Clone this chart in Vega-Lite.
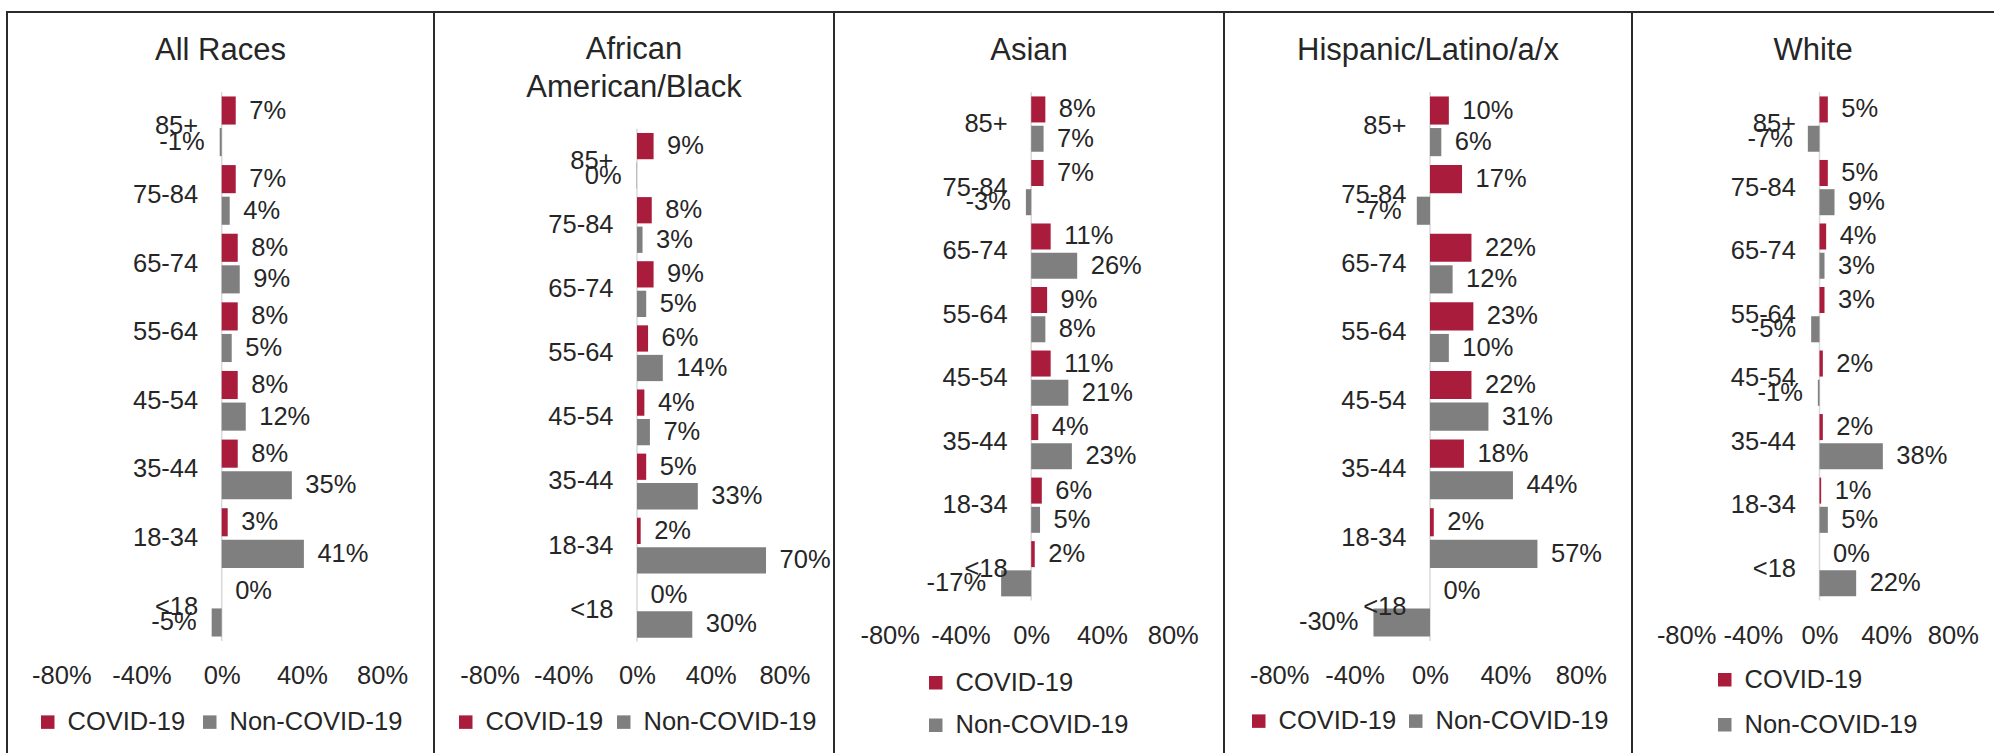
{
  "$schema": "https://vega.github.io/schema/vega-lite/v6.json",
  "datasets": {
    "d": [
      {"race": "All Races", "age": "85+", "series": "COVID-19", "value": 0.07},
      {"race": "All Races", "age": "85+", "series": "Non-COVID-19", "value": -0.01},
      {"race": "All Races", "age": "75-84", "series": "COVID-19", "value": 0.07},
      {"race": "All Races", "age": "75-84", "series": "Non-COVID-19", "value": 0.04},
      {"race": "All Races", "age": "65-74", "series": "COVID-19", "value": 0.08},
      {"race": "All Races", "age": "65-74", "series": "Non-COVID-19", "value": 0.09},
      {"race": "All Races", "age": "55-64", "series": "COVID-19", "value": 0.08},
      {"race": "All Races", "age": "55-64", "series": "Non-COVID-19", "value": 0.05},
      {"race": "All Races", "age": "45-54", "series": "COVID-19", "value": 0.08},
      {"race": "All Races", "age": "45-54", "series": "Non-COVID-19", "value": 0.12},
      {"race": "All Races", "age": "35-44", "series": "COVID-19", "value": 0.08},
      {"race": "All Races", "age": "35-44", "series": "Non-COVID-19", "value": 0.35},
      {"race": "All Races", "age": "18-34", "series": "COVID-19", "value": 0.03},
      {"race": "All Races", "age": "18-34", "series": "Non-COVID-19", "value": 0.41},
      {"race": "All Races", "age": "<18", "series": "COVID-19", "value": 0.0},
      {"race": "All Races", "age": "<18", "series": "Non-COVID-19", "value": -0.05},

      {"race": "African American/Black", "age": "85+", "series": "COVID-19", "value": 0.09},
      {"race": "African American/Black", "age": "85+", "series": "Non-COVID-19", "value": -0.002},
      {"race": "African American/Black", "age": "75-84", "series": "COVID-19", "value": 0.08},
      {"race": "African American/Black", "age": "75-84", "series": "Non-COVID-19", "value": 0.03},
      {"race": "African American/Black", "age": "65-74", "series": "COVID-19", "value": 0.09},
      {"race": "African American/Black", "age": "65-74", "series": "Non-COVID-19", "value": 0.05},
      {"race": "African American/Black", "age": "55-64", "series": "COVID-19", "value": 0.06},
      {"race": "African American/Black", "age": "55-64", "series": "Non-COVID-19", "value": 0.14},
      {"race": "African American/Black", "age": "45-54", "series": "COVID-19", "value": 0.04},
      {"race": "African American/Black", "age": "45-54", "series": "Non-COVID-19", "value": 0.07},
      {"race": "African American/Black", "age": "35-44", "series": "COVID-19", "value": 0.05},
      {"race": "African American/Black", "age": "35-44", "series": "Non-COVID-19", "value": 0.33},
      {"race": "African American/Black", "age": "18-34", "series": "COVID-19", "value": 0.02},
      {"race": "African American/Black", "age": "18-34", "series": "Non-COVID-19", "value": 0.70},
      {"race": "African American/Black", "age": "<18", "series": "COVID-19", "value": 0.0},
      {"race": "African American/Black", "age": "<18", "series": "Non-COVID-19", "value": 0.30},

      {"race": "Asian", "age": "85+", "series": "COVID-19", "value": 0.08},
      {"race": "Asian", "age": "85+", "series": "Non-COVID-19", "value": 0.07},
      {"race": "Asian", "age": "75-84", "series": "COVID-19", "value": 0.07},
      {"race": "Asian", "age": "75-84", "series": "Non-COVID-19", "value": -0.03},
      {"race": "Asian", "age": "65-74", "series": "COVID-19", "value": 0.11},
      {"race": "Asian", "age": "65-74", "series": "Non-COVID-19", "value": 0.26},
      {"race": "Asian", "age": "55-64", "series": "COVID-19", "value": 0.09},
      {"race": "Asian", "age": "55-64", "series": "Non-COVID-19", "value": 0.08},
      {"race": "Asian", "age": "45-54", "series": "COVID-19", "value": 0.11},
      {"race": "Asian", "age": "45-54", "series": "Non-COVID-19", "value": 0.21},
      {"race": "Asian", "age": "35-44", "series": "COVID-19", "value": 0.04},
      {"race": "Asian", "age": "35-44", "series": "Non-COVID-19", "value": 0.23},
      {"race": "Asian", "age": "18-34", "series": "COVID-19", "value": 0.06},
      {"race": "Asian", "age": "18-34", "series": "Non-COVID-19", "value": 0.05},
      {"race": "Asian", "age": "<18", "series": "COVID-19", "value": 0.02},
      {"race": "Asian", "age": "<18", "series": "Non-COVID-19", "value": -0.17},

      {"race": "Hispanic/Latino/a/x", "age": "85+", "series": "COVID-19", "value": 0.10},
      {"race": "Hispanic/Latino/a/x", "age": "85+", "series": "Non-COVID-19", "value": 0.06},
      {"race": "Hispanic/Latino/a/x", "age": "75-84", "series": "COVID-19", "value": 0.17},
      {"race": "Hispanic/Latino/a/x", "age": "75-84", "series": "Non-COVID-19", "value": -0.07},
      {"race": "Hispanic/Latino/a/x", "age": "65-74", "series": "COVID-19", "value": 0.22},
      {"race": "Hispanic/Latino/a/x", "age": "65-74", "series": "Non-COVID-19", "value": 0.12},
      {"race": "Hispanic/Latino/a/x", "age": "55-64", "series": "COVID-19", "value": 0.23},
      {"race": "Hispanic/Latino/a/x", "age": "55-64", "series": "Non-COVID-19", "value": 0.10},
      {"race": "Hispanic/Latino/a/x", "age": "45-54", "series": "COVID-19", "value": 0.22},
      {"race": "Hispanic/Latino/a/x", "age": "45-54", "series": "Non-COVID-19", "value": 0.31},
      {"race": "Hispanic/Latino/a/x", "age": "35-44", "series": "COVID-19", "value": 0.18},
      {"race": "Hispanic/Latino/a/x", "age": "35-44", "series": "Non-COVID-19", "value": 0.44},
      {"race": "Hispanic/Latino/a/x", "age": "18-34", "series": "COVID-19", "value": 0.02},
      {"race": "Hispanic/Latino/a/x", "age": "18-34", "series": "Non-COVID-19", "value": 0.57},
      {"race": "Hispanic/Latino/a/x", "age": "<18", "series": "COVID-19", "value": 0.0},
      {"race": "Hispanic/Latino/a/x", "age": "<18", "series": "Non-COVID-19", "value": -0.30},

      {"race": "White", "age": "85+", "series": "COVID-19", "value": 0.05},
      {"race": "White", "age": "85+", "series": "Non-COVID-19", "value": -0.07},
      {"race": "White", "age": "75-84", "series": "COVID-19", "value": 0.05},
      {"race": "White", "age": "75-84", "series": "Non-COVID-19", "value": 0.09},
      {"race": "White", "age": "65-74", "series": "COVID-19", "value": 0.04},
      {"race": "White", "age": "65-74", "series": "Non-COVID-19", "value": 0.03},
      {"race": "White", "age": "55-64", "series": "COVID-19", "value": 0.03},
      {"race": "White", "age": "55-64", "series": "Non-COVID-19", "value": -0.05},
      {"race": "White", "age": "45-54", "series": "COVID-19", "value": 0.02},
      {"race": "White", "age": "45-54", "series": "Non-COVID-19", "value": -0.01},
      {"race": "White", "age": "35-44", "series": "COVID-19", "value": 0.02},
      {"race": "White", "age": "35-44", "series": "Non-COVID-19", "value": 0.38},
      {"race": "White", "age": "18-34", "series": "COVID-19", "value": 0.01},
      {"race": "White", "age": "18-34", "series": "Non-COVID-19", "value": 0.05},
      {"race": "White", "age": "<18", "series": "COVID-19", "value": 0.0},
      {"race": "White", "age": "<18", "series": "Non-COVID-19", "value": 0.22}
    ]
  },
  "data": {"name": "d"},
  "padding": {"left": 6, "top": 11, "right": 0, "bottom": 0},
  "spacing": 0,
  "bounds": "flush",
  "hconcat": [
    {
      "width": 427, "height": 741,
      "view": {"strokeDash": [1168, 427, 741]},
      "title": {"text": "All Races", "offset": -55, "fontSize": 31, "fontWeight": "normal", "color": "#262626", "anchor": "middle", "frame": "group"},
      "transform": [{"filter": "datum.race == 'All Races'"}],
      "layer": [
        {
          "transform": [{"filter": "datum.age == '85+' && datum.series == 'COVID-19'"}],
          "mark": {"type": "rule", "color": "#d9d9d9", "strokeWidth": 1.5},
          "encoding": {
            "x": {"datum": 0, "type": "quantitative", "scale": {"domain": [-1.0708, 1.0589], "nice": false}, "axis": {"values": [-0.8, -0.4, 0, 0.4, 0.8], "format": ".0%", "title": null, "domain": false, "ticks": false, "tickSize": 0, "grid": false, "labelPadding": 0, "labelBaseline": "middle", "labelFontSize": 25.5, "labelColor": "#262626", "labelOverlap": false, "labelFlush": false, "offset": -78}},
            "y": {"datum": "85+", "type": "nominal", "bandPosition": -0.0747, "scale": {"domain": ["85+", "75-84", "65-74", "55-64", "45-54", "35-44", "18-34", "<18"], "range": [80, 629], "paddingInner": 0.13, "paddingOuter": 0.065}, "axis": null},
            "y2": {"datum": "<18", "bandPosition": 1.0747}
          }
        },
        {
          "mark": {"type": "bar"},
          "encoding": {
            "x": {"field": "value", "type": "quantitative", "scale": {"domain": [-1.0708, 1.0589], "nice": false}, "axis": {"values": [-0.8, -0.4, 0, 0.4, 0.8], "format": ".0%", "title": null, "domain": false, "ticks": false, "tickSize": 0, "grid": false, "labelPadding": 0, "labelBaseline": "middle", "labelFontSize": 25.5, "labelColor": "#262626", "labelOverlap": false, "labelFlush": false, "offset": -78}},
            "x2": {"datum": 0},
            "y": {"field": "age", "type": "nominal", "scale": {"domain": ["85+", "75-84", "65-74", "55-64", "45-54", "35-44", "18-34", "<18"], "range": [80, 629], "paddingInner": 0.13, "paddingOuter": 0.065}, "axis": null},
            "yOffset": {"field": "series", "type": "nominal", "scale": {"paddingInner": 0.11, "paddingOuter": 0}},
            "color": {"field": "series", "type": "nominal", "scale": {"domain": ["COVID-19", "Non-COVID-19"], "range": ["#AA1C3C", "#7F7F7F"]}, "legend": {"title": null, "orient": "none", "legendX": 28, "legendY": 697, "direction": "horizontal", "symbolType": "square", "symbolSize": 182, "symbolStrokeWidth": 0, "labelFontSize": 25.5, "labelColor": "#262626", "labelOffset": 7, "columnPadding": 11, "padding": 0, "labelLimit": 400}}
          }
        },
        {
          "transform": [{"filter": "datum.value >= 0"}],
          "mark": {"type": "text", "align": "left", "baseline": "middle", "dx": 13.5, "fontSize": 25.5, "color": "#262626"},
          "encoding": {
            "x": {"field": "value", "type": "quantitative", "scale": {"domain": [-1.0708, 1.0589], "nice": false}},
            "y": {"field": "age", "type": "nominal", "scale": {"domain": ["85+", "75-84", "65-74", "55-64", "45-54", "35-44", "18-34", "<18"], "range": [80, 629], "paddingInner": 0.13, "paddingOuter": 0.065}, "axis": null},
            "yOffset": {"field": "series", "type": "nominal", "scale": {"paddingInner": 0.11, "paddingOuter": 0}},
            "text": {"field": "value", "type": "quantitative", "format": ".0%"}
          }
        },
        {
          "transform": [{"filter": "datum.value < 0"}],
          "mark": {"type": "text", "align": "right", "baseline": "middle", "dx": -15, "fontSize": 25.5, "color": "#262626"},
          "encoding": {
            "x": {"field": "value", "type": "quantitative", "scale": {"domain": [-1.0708, 1.0589], "nice": false}},
            "y": {"field": "age", "type": "nominal", "scale": {"domain": ["85+", "75-84", "65-74", "55-64", "45-54", "35-44", "18-34", "<18"], "range": [80, 629], "paddingInner": 0.13, "paddingOuter": 0.065}, "axis": null},
            "yOffset": {"field": "series", "type": "nominal", "scale": {"paddingInner": 0.11, "paddingOuter": 0}},
            "text": {"field": "value", "type": "quantitative", "format": ".0%"}
          }
        },
        {
          "transform": [{"filter": "datum.series == 'COVID-19'"}],
          "mark": {"type": "text", "align": "right", "baseline": "middle", "dx": -23.5, "fontSize": 25.5, "color": "#262626"},
          "encoding": {
            "x": {"datum": 0, "type": "quantitative", "scale": {"domain": [-1.0708, 1.0589], "nice": false}},
            "y": {"field": "age", "type": "nominal", "scale": {"domain": ["85+", "75-84", "65-74", "55-64", "45-54", "35-44", "18-34", "<18"], "range": [80, 629], "paddingInner": 0.13, "paddingOuter": 0.065}, "axis": null},
            "text": {"field": "age", "type": "nominal"}
          }
        }
      ]
    },
    {
      "width": 400, "height": 741,
      "view": {"strokeDash": [1141, 400, 741]},
      "title": {"text": ["African", "American/Black"], "lineHeight": 37.6, "offset": -92, "fontSize": 31, "fontWeight": "normal", "color": "#262626", "anchor": "middle", "frame": "group"},
      "transform": [{"filter": "datum.race == 'African American/Black'"}],
      "layer": [
        {
          "transform": [{"filter": "datum.age == '85+' && datum.series == 'COVID-19'"}],
          "mark": {"type": "rule", "color": "#d9d9d9", "strokeWidth": 1.5},
          "encoding": {
            "x": {"datum": 0, "type": "quantitative", "scale": {"domain": [-1.1015, 1.0689], "nice": false}, "axis": {"values": [-0.8, -0.4, 0, 0.4, 0.8], "format": ".0%", "title": null, "domain": false, "ticks": false, "tickSize": 0, "grid": false, "labelPadding": 0, "labelBaseline": "middle", "labelFontSize": 25.5, "labelColor": "#262626", "labelOverlap": false, "labelFlush": false, "offset": -78}},
            "y": {"datum": "85+", "type": "nominal", "bandPosition": -0.0747, "scale": {"domain": ["85+", "75-84", "65-74", "55-64", "45-54", "35-44", "18-34", "<18"], "range": [116.8, 629.8], "paddingInner": 0.13, "paddingOuter": 0.065}, "axis": null},
            "y2": {"datum": "<18", "bandPosition": 1.0747}
          }
        },
        {
          "mark": {"type": "bar"},
          "encoding": {
            "x": {"field": "value", "type": "quantitative", "scale": {"domain": [-1.1015, 1.0689], "nice": false}, "axis": {"values": [-0.8, -0.4, 0, 0.4, 0.8], "format": ".0%", "title": null, "domain": false, "ticks": false, "tickSize": 0, "grid": false, "labelPadding": 0, "labelBaseline": "middle", "labelFontSize": 25.5, "labelColor": "#262626", "labelOverlap": false, "labelFlush": false, "offset": -78}},
            "x2": {"datum": 0},
            "y": {"field": "age", "type": "nominal", "scale": {"domain": ["85+", "75-84", "65-74", "55-64", "45-54", "35-44", "18-34", "<18"], "range": [116.8, 629.8], "paddingInner": 0.13, "paddingOuter": 0.065}, "axis": null},
            "yOffset": {"field": "series", "type": "nominal", "scale": {"paddingInner": 0.11, "paddingOuter": 0}},
            "color": {"field": "series", "type": "nominal", "scale": {"domain": ["COVID-19", "Non-COVID-19"], "range": ["#AA1C3C", "#7F7F7F"]}, "legend": {"title": null, "orient": "none", "legendX": 19, "legendY": 697, "direction": "horizontal", "symbolType": "square", "symbolSize": 182, "symbolStrokeWidth": 0, "labelFontSize": 25.5, "labelColor": "#262626", "labelOffset": 7, "columnPadding": 7, "padding": 0, "labelLimit": 400}}
          }
        },
        {
          "transform": [{"filter": "datum.value >= 0"}],
          "mark": {"type": "text", "align": "left", "baseline": "middle", "dx": 13.5, "fontSize": 25.5, "color": "#262626"},
          "encoding": {
            "x": {"field": "value", "type": "quantitative", "scale": {"domain": [-1.1015, 1.0689], "nice": false}},
            "y": {"field": "age", "type": "nominal", "scale": {"domain": ["85+", "75-84", "65-74", "55-64", "45-54", "35-44", "18-34", "<18"], "range": [116.8, 629.8], "paddingInner": 0.13, "paddingOuter": 0.065}, "axis": null},
            "yOffset": {"field": "series", "type": "nominal", "scale": {"paddingInner": 0.11, "paddingOuter": 0}},
            "text": {"field": "value", "type": "quantitative", "format": ".0%"}
          }
        },
        {
          "transform": [{"filter": "datum.value < 0"}],
          "mark": {"type": "text", "align": "right", "baseline": "middle", "dx": -15, "fontSize": 25.5, "color": "#262626"},
          "encoding": {
            "x": {"field": "value", "type": "quantitative", "scale": {"domain": [-1.1015, 1.0689], "nice": false}},
            "y": {"field": "age", "type": "nominal", "scale": {"domain": ["85+", "75-84", "65-74", "55-64", "45-54", "35-44", "18-34", "<18"], "range": [116.8, 629.8], "paddingInner": 0.13, "paddingOuter": 0.065}, "axis": null},
            "yOffset": {"field": "series", "type": "nominal", "scale": {"paddingInner": 0.11, "paddingOuter": 0}},
            "text": {"field": "value", "type": "quantitative", "format": ".0%"}
          }
        },
        {
          "transform": [{"filter": "datum.series == 'COVID-19'"}],
          "mark": {"type": "text", "align": "right", "baseline": "middle", "dx": -23.5, "fontSize": 25.5, "color": "#262626"},
          "encoding": {
            "x": {"datum": 0, "type": "quantitative", "scale": {"domain": [-1.1015, 1.0689], "nice": false}},
            "y": {"field": "age", "type": "nominal", "scale": {"domain": ["85+", "75-84", "65-74", "55-64", "45-54", "35-44", "18-34", "<18"], "range": [116.8, 629.8], "paddingInner": 0.13, "paddingOuter": 0.065}, "axis": null},
            "text": {"field": "age", "type": "nominal"}
          }
        }
      ]
    },
    {
      "width": 390, "height": 741,
      "view": {"strokeDash": [1131, 390, 741]},
      "title": {"text": "Asian", "offset": -55, "fontSize": 31, "fontWeight": "normal", "color": "#262626", "anchor": "middle", "frame": "group"},
      "transform": [{"filter": "datum.race == 'Asian'"}],
      "layer": [
        {
          "transform": [{"filter": "datum.age == '85+' && datum.series == 'COVID-19'"}],
          "mark": {"type": "rule", "color": "#d9d9d9", "strokeWidth": 1.5},
          "encoding": {
            "x": {"datum": 0, "type": "quantitative", "scale": {"domain": [-1.1148, 1.0899], "nice": false}, "axis": {"values": [-0.8, -0.4, 0, 0.4, 0.8], "format": ".0%", "title": null, "domain": false, "ticks": false, "tickSize": 0, "grid": false, "labelPadding": 0, "labelBaseline": "middle", "labelFontSize": 25.5, "labelColor": "#262626", "labelOverlap": false, "labelFlush": false, "offset": -117.5}},
            "y": {"datum": "85+", "type": "nominal", "bandPosition": -0.0747, "scale": {"domain": ["85+", "75-84", "65-74", "55-64", "45-54", "35-44", "18-34", "<18"], "range": [80.3, 588.5], "paddingInner": 0.13, "paddingOuter": 0.065}, "axis": null},
            "y2": {"datum": "<18", "bandPosition": 1.0747}
          }
        },
        {
          "mark": {"type": "bar"},
          "encoding": {
            "x": {"field": "value", "type": "quantitative", "scale": {"domain": [-1.1148, 1.0899], "nice": false}, "axis": {"values": [-0.8, -0.4, 0, 0.4, 0.8], "format": ".0%", "title": null, "domain": false, "ticks": false, "tickSize": 0, "grid": false, "labelPadding": 0, "labelBaseline": "middle", "labelFontSize": 25.5, "labelColor": "#262626", "labelOverlap": false, "labelFlush": false, "offset": -117.5}},
            "x2": {"datum": 0},
            "y": {"field": "age", "type": "nominal", "scale": {"domain": ["85+", "75-84", "65-74", "55-64", "45-54", "35-44", "18-34", "<18"], "range": [80.3, 588.5], "paddingInner": 0.13, "paddingOuter": 0.065}, "axis": null},
            "yOffset": {"field": "series", "type": "nominal", "scale": {"paddingInner": 0.11, "paddingOuter": 0}},
            "color": {"field": "series", "type": "nominal", "scale": {"domain": ["COVID-19", "Non-COVID-19"], "range": ["#AA1C3C", "#7F7F7F"]}, "legend": {"title": null, "orient": "none", "legendX": 89, "legendY": 658, "direction": "vertical", "symbolType": "square", "symbolSize": 182, "symbolStrokeWidth": 0, "labelFontSize": 25.5, "labelColor": "#262626", "labelOffset": 7, "rowPadding": 15.5, "padding": 0, "labelLimit": 400}}
          }
        },
        {
          "transform": [{"filter": "datum.value >= 0"}],
          "mark": {"type": "text", "align": "left", "baseline": "middle", "dx": 13.5, "fontSize": 25.5, "color": "#262626"},
          "encoding": {
            "x": {"field": "value", "type": "quantitative", "scale": {"domain": [-1.1148, 1.0899], "nice": false}},
            "y": {"field": "age", "type": "nominal", "scale": {"domain": ["85+", "75-84", "65-74", "55-64", "45-54", "35-44", "18-34", "<18"], "range": [80.3, 588.5], "paddingInner": 0.13, "paddingOuter": 0.065}, "axis": null},
            "yOffset": {"field": "series", "type": "nominal", "scale": {"paddingInner": 0.11, "paddingOuter": 0}},
            "text": {"field": "value", "type": "quantitative", "format": ".0%"}
          }
        },
        {
          "transform": [{"filter": "datum.value < 0"}],
          "mark": {"type": "text", "align": "right", "baseline": "middle", "dx": -15, "fontSize": 25.5, "color": "#262626"},
          "encoding": {
            "x": {"field": "value", "type": "quantitative", "scale": {"domain": [-1.1148, 1.0899], "nice": false}},
            "y": {"field": "age", "type": "nominal", "scale": {"domain": ["85+", "75-84", "65-74", "55-64", "45-54", "35-44", "18-34", "<18"], "range": [80.3, 588.5], "paddingInner": 0.13, "paddingOuter": 0.065}, "axis": null},
            "yOffset": {"field": "series", "type": "nominal", "scale": {"paddingInner": 0.11, "paddingOuter": 0}},
            "text": {"field": "value", "type": "quantitative", "format": ".0%"}
          }
        },
        {
          "transform": [{"filter": "datum.series == 'COVID-19'"}],
          "mark": {"type": "text", "align": "right", "baseline": "middle", "dx": -23.5, "fontSize": 25.5, "color": "#262626"},
          "encoding": {
            "x": {"datum": 0, "type": "quantitative", "scale": {"domain": [-1.1148, 1.0899], "nice": false}},
            "y": {"field": "age", "type": "nominal", "scale": {"domain": ["85+", "75-84", "65-74", "55-64", "45-54", "35-44", "18-34", "<18"], "range": [80.3, 588.5], "paddingInner": 0.13, "paddingOuter": 0.065}, "axis": null},
            "text": {"field": "age", "type": "nominal"}
          }
        }
      ]
    },
    {
      "width": 408, "height": 741,
      "view": {"strokeDash": [1149, 408, 741]},
      "title": {"text": "Hispanic/Latino/a/x", "offset": -55, "fontSize": 31, "fontWeight": "normal", "color": "#262626", "anchor": "middle", "frame": "group"},
      "transform": [{"filter": "datum.race == 'Hispanic/Latino/a/x'"}],
      "layer": [
        {
          "transform": [{"filter": "datum.age == '85+' && datum.series == 'COVID-19'"}],
          "mark": {"type": "rule", "color": "#d9d9d9", "strokeWidth": 1.5},
          "encoding": {
            "x": {"datum": 0, "type": "quantitative", "scale": {"domain": [-1.0928, 1.0716], "nice": false}, "axis": {"values": [-0.8, -0.4, 0, 0.4, 0.8], "format": ".0%", "title": null, "domain": false, "ticks": false, "tickSize": 0, "grid": false, "labelPadding": 0, "labelBaseline": "middle", "labelFontSize": 25.5, "labelColor": "#262626", "labelOverlap": false, "labelFlush": false, "offset": -78}},
            "y": {"datum": "85+", "type": "nominal", "bandPosition": -0.0747, "scale": {"domain": ["85+", "75-84", "65-74", "55-64", "45-54", "35-44", "18-34", "<18"], "range": [80, 629], "paddingInner": 0.13, "paddingOuter": 0.065}, "axis": null},
            "y2": {"datum": "<18", "bandPosition": 1.0747}
          }
        },
        {
          "mark": {"type": "bar"},
          "encoding": {
            "x": {"field": "value", "type": "quantitative", "scale": {"domain": [-1.0928, 1.0716], "nice": false}, "axis": {"values": [-0.8, -0.4, 0, 0.4, 0.8], "format": ".0%", "title": null, "domain": false, "ticks": false, "tickSize": 0, "grid": false, "labelPadding": 0, "labelBaseline": "middle", "labelFontSize": 25.5, "labelColor": "#262626", "labelOverlap": false, "labelFlush": false, "offset": -78}},
            "x2": {"datum": 0},
            "y": {"field": "age", "type": "nominal", "scale": {"domain": ["85+", "75-84", "65-74", "55-64", "45-54", "35-44", "18-34", "<18"], "range": [80, 629], "paddingInner": 0.13, "paddingOuter": 0.065}, "axis": null},
            "yOffset": {"field": "series", "type": "nominal", "scale": {"paddingInner": 0.11, "paddingOuter": 0}},
            "color": {"field": "series", "type": "nominal", "scale": {"domain": ["COVID-19", "Non-COVID-19"], "range": ["#AA1C3C", "#7F7F7F"]}, "legend": {"title": null, "orient": "none", "legendX": 22, "legendY": 696, "direction": "horizontal", "symbolType": "square", "symbolSize": 182, "symbolStrokeWidth": 0, "labelFontSize": 25.5, "labelColor": "#262626", "labelOffset": 7, "columnPadding": 6, "padding": 0, "labelLimit": 400}}
          }
        },
        {
          "transform": [{"filter": "datum.value >= 0"}],
          "mark": {"type": "text", "align": "left", "baseline": "middle", "dx": 13.5, "fontSize": 25.5, "color": "#262626"},
          "encoding": {
            "x": {"field": "value", "type": "quantitative", "scale": {"domain": [-1.0928, 1.0716], "nice": false}},
            "y": {"field": "age", "type": "nominal", "scale": {"domain": ["85+", "75-84", "65-74", "55-64", "45-54", "35-44", "18-34", "<18"], "range": [80, 629], "paddingInner": 0.13, "paddingOuter": 0.065}, "axis": null},
            "yOffset": {"field": "series", "type": "nominal", "scale": {"paddingInner": 0.11, "paddingOuter": 0}},
            "text": {"field": "value", "type": "quantitative", "format": ".0%"}
          }
        },
        {
          "transform": [{"filter": "datum.value < 0"}],
          "mark": {"type": "text", "align": "right", "baseline": "middle", "dx": -15, "fontSize": 25.5, "color": "#262626"},
          "encoding": {
            "x": {"field": "value", "type": "quantitative", "scale": {"domain": [-1.0928, 1.0716], "nice": false}},
            "y": {"field": "age", "type": "nominal", "scale": {"domain": ["85+", "75-84", "65-74", "55-64", "45-54", "35-44", "18-34", "<18"], "range": [80, 629], "paddingInner": 0.13, "paddingOuter": 0.065}, "axis": null},
            "yOffset": {"field": "series", "type": "nominal", "scale": {"paddingInner": 0.11, "paddingOuter": 0}},
            "text": {"field": "value", "type": "quantitative", "format": ".0%"}
          }
        },
        {
          "transform": [{"filter": "datum.series == 'COVID-19'"}],
          "mark": {"type": "text", "align": "right", "baseline": "middle", "dx": -23.5, "fontSize": 25.5, "color": "#262626"},
          "encoding": {
            "x": {"datum": 0, "type": "quantitative", "scale": {"domain": [-1.0928, 1.0716], "nice": false}},
            "y": {"field": "age", "type": "nominal", "scale": {"domain": ["85+", "75-84", "65-74", "55-64", "45-54", "35-44", "18-34", "<18"], "range": [80, 629], "paddingInner": 0.13, "paddingOuter": 0.065}, "axis": null},
            "text": {"field": "age", "type": "nominal"}
          }
        }
      ]
    },
    {
      "width": 362, "height": 741,
      "view": {"strokeDash": [362, 1103, 741]},
      "title": {"text": "White", "offset": -55, "fontSize": 31, "fontWeight": "normal", "color": "#262626", "anchor": "middle", "frame": "group"},
      "transform": [{"filter": "datum.race == 'White'"}],
      "layer": [
        {
          "transform": [{"filter": "datum.age == '85+' && datum.series == 'COVID-19'"}],
          "mark": {"type": "rule", "color": "#d9d9d9", "strokeWidth": 1.5},
          "encoding": {
            "x": {"datum": 0, "type": "quantitative", "scale": {"domain": [-1.1248, 1.0468], "nice": false}, "axis": {"values": [-0.8, -0.4, 0, 0.4, 0.8], "format": ".0%", "title": null, "domain": false, "ticks": false, "tickSize": 0, "grid": false, "labelPadding": 0, "labelBaseline": "middle", "labelFontSize": 25.5, "labelColor": "#262626", "labelOverlap": false, "labelFlush": false, "offset": -117.5}},
            "y": {"datum": "85+", "type": "nominal", "bandPosition": -0.0747, "scale": {"domain": ["85+", "75-84", "65-74", "55-64", "45-54", "35-44", "18-34", "<18"], "range": [80.3, 588.5], "paddingInner": 0.13, "paddingOuter": 0.065}, "axis": null},
            "y2": {"datum": "<18", "bandPosition": 1.0747}
          }
        },
        {
          "mark": {"type": "bar"},
          "encoding": {
            "x": {"field": "value", "type": "quantitative", "scale": {"domain": [-1.1248, 1.0468], "nice": false}, "axis": {"values": [-0.8, -0.4, 0, 0.4, 0.8], "format": ".0%", "title": null, "domain": false, "ticks": false, "tickSize": 0, "grid": false, "labelPadding": 0, "labelBaseline": "middle", "labelFontSize": 25.5, "labelColor": "#262626", "labelOverlap": false, "labelFlush": false, "offset": -117.5}},
            "x2": {"datum": 0},
            "y": {"field": "age", "type": "nominal", "scale": {"domain": ["85+", "75-84", "65-74", "55-64", "45-54", "35-44", "18-34", "<18"], "range": [80.3, 588.5], "paddingInner": 0.13, "paddingOuter": 0.065}, "axis": null},
            "yOffset": {"field": "series", "type": "nominal", "scale": {"paddingInner": 0.11, "paddingOuter": 0}},
            "color": {"field": "series", "type": "nominal", "scale": {"domain": ["COVID-19", "Non-COVID-19"], "range": ["#AA1C3C", "#7F7F7F"]}, "legend": {"title": null, "orient": "none", "legendX": 80, "legendY": 655, "direction": "vertical", "symbolType": "square", "symbolSize": 182, "symbolStrokeWidth": 0, "labelFontSize": 25.5, "labelColor": "#262626", "labelOffset": 7, "rowPadding": 18, "padding": 0, "labelLimit": 400}}
          }
        },
        {
          "transform": [{"filter": "datum.value >= 0"}],
          "mark": {"type": "text", "align": "left", "baseline": "middle", "dx": 13.5, "fontSize": 25.5, "color": "#262626"},
          "encoding": {
            "x": {"field": "value", "type": "quantitative", "scale": {"domain": [-1.1248, 1.0468], "nice": false}},
            "y": {"field": "age", "type": "nominal", "scale": {"domain": ["85+", "75-84", "65-74", "55-64", "45-54", "35-44", "18-34", "<18"], "range": [80.3, 588.5], "paddingInner": 0.13, "paddingOuter": 0.065}, "axis": null},
            "yOffset": {"field": "series", "type": "nominal", "scale": {"paddingInner": 0.11, "paddingOuter": 0}},
            "text": {"field": "value", "type": "quantitative", "format": ".0%"}
          }
        },
        {
          "transform": [{"filter": "datum.value < 0"}],
          "mark": {"type": "text", "align": "right", "baseline": "middle", "dx": -15, "fontSize": 25.5, "color": "#262626"},
          "encoding": {
            "x": {"field": "value", "type": "quantitative", "scale": {"domain": [-1.1248, 1.0468], "nice": false}},
            "y": {"field": "age", "type": "nominal", "scale": {"domain": ["85+", "75-84", "65-74", "55-64", "45-54", "35-44", "18-34", "<18"], "range": [80.3, 588.5], "paddingInner": 0.13, "paddingOuter": 0.065}, "axis": null},
            "yOffset": {"field": "series", "type": "nominal", "scale": {"paddingInner": 0.11, "paddingOuter": 0}},
            "text": {"field": "value", "type": "quantitative", "format": ".0%"}
          }
        },
        {
          "transform": [{"filter": "datum.series == 'COVID-19'"}],
          "mark": {"type": "text", "align": "right", "baseline": "middle", "dx": -23.5, "fontSize": 25.5, "color": "#262626"},
          "encoding": {
            "x": {"datum": 0, "type": "quantitative", "scale": {"domain": [-1.1248, 1.0468], "nice": false}},
            "y": {"field": "age", "type": "nominal", "scale": {"domain": ["85+", "75-84", "65-74", "55-64", "45-54", "35-44", "18-34", "<18"], "range": [80.3, 588.5], "paddingInner": 0.13, "paddingOuter": 0.065}, "axis": null},
            "text": {"field": "age", "type": "nominal"}
          }
        }
      ]
    }
  ],
  "resolve": {
    "scale": {"x": "independent", "y": "independent", "color": "independent", "yOffset": "independent"},
    "legend": {"color": "independent"},
    "axis": {"x": "independent", "y": "independent"}
  },
  "config": {
    "font": "Liberation Sans",
    "background": "white",
    "view": {"stroke": "#2b2b2b", "strokeWidth": 2},
    "locale": {"number": {"decimal": ".", "thousands": ",", "grouping": [3], "currency": ["$", ""], "minus": "-"}}
  }
}
